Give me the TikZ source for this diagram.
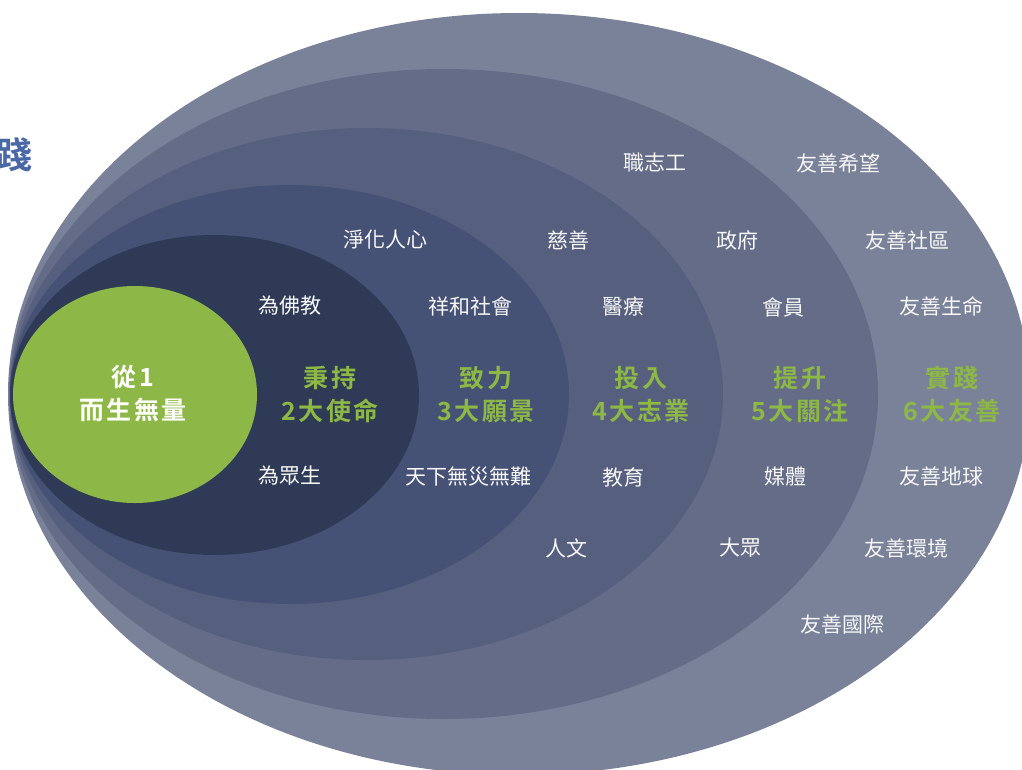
\documentclass[tikz,border=0pt]{standalone}
\usepackage{fontspec}
\newfontfamily\cjk{Noto Sans CJK TC}
\newfontfamily\cjkb{Noto Sans CJK TC Bold}
\definecolor{ringA}{HTML}{7A8299}
\definecolor{ringB}{HTML}{646C87}
\definecolor{ringC}{HTML}{56607E}
\definecolor{ringD}{HTML}{465275}
\definecolor{ringE}{HTML}{2F3B56}
\definecolor{coregreen}{HTML}{8DB848}
\definecolor{textgreen}{HTML}{8DB845}
\definecolor{titleblue}{HTML}{4A68A6}
\def\tr#1{\trA#1\relax}
\def\trA#1{#1\trB}
\def\trB#1{\ifx#1\relax\else\kern2.5pt#1\expandafter\trB\fi}
\tikzset{
  lbl/.style={text=white!94!gray, font=\cjk\fontsize{21}{25}\selectfont, inner sep=0pt},
  big/.style={text=textgreen, font=\cjkb\fontsize{25}{33}\selectfont, align=center, inner sep=0pt},
  corelbl/.style={text=white, font=\cjkb\fontsize{25}{33}\selectfont, align=center, inner sep=0pt},
}
\begin{document}
\begin{tikzpicture}[x=1pt,y=-1pt]
\useasboundingbox (0,0) rectangle (1022,769);
% nested rings
\fill[ringA] (519,394) ellipse [x radius=511pt, y radius=381pt];
\fill[ringB] (443.5,394) ellipse [x radius=434.5pt, y radius=325pt];
\fill[ringC] (366.5,394) ellipse [x radius=356.5pt, y radius=266pt];
\fill[ringD] (289.5,394.5) ellipse [x radius=279.5pt, y radius=209.5pt];
\fill[ringE] (214.5,395) ellipse [x radius=204.5pt, y radius=160pt];
\fill[coregreen] (135,394.5) ellipse [x radius=122pt, y radius=108.5pt];
% partial title
\node[text=titleblue, font=\cjkb\fontsize{36}{40}\selectfont, inner sep=0pt] (title) at (15,155) {踐};
% core
\node[corelbl] (core) at (133,394) {\tr{從1}\\\tr{而生無量}};
% green headings
\node[big] (h2) at (330,394.5) {\tr{秉持}\\\tr{2大使命}};
\node[big] (h3) at (486,394.5) {\tr{致力}\\\tr{3大願景}};
\node[big] (h4) at (641,394.5) {\tr{投入}\\\tr{4大志業}};
\node[big] (h5) at (800,394.5) {\tr{提升}\\\tr{5大關注}};
\node[big] (h6) at (952,394.5) {\tr{實踐}\\\tr{6大友善}};
% white labels
\node[lbl] (l1) at (655,163) {職志工};
\node[lbl] (l2) at (838,163) {友善希望};
\node[lbl] (l3) at (385,240) {淨化人心};
\node[lbl] (l4) at (568,240) {慈善};
\node[lbl] (l5) at (737,240) {政府};
\node[lbl] (l6) at (907,240) {友善社區};
\node[lbl] (l7) at (290,306) {為佛教};
\node[lbl] (l8) at (470,306) {祥和社會};
\node[lbl] (l9) at (623,307) {醫療};
\node[lbl] (l10) at (783,307) {會員};
\node[lbl] (l11) at (941,306) {友善生命};
\node[lbl] (l12) at (290,476) {為眾生};
\node[lbl] (l13) at (468,476) {天下無災無難};
\node[lbl] (l14) at (623,477) {教育};
\node[lbl] (l15) at (785,477) {媒體};
\node[lbl] (l16) at (941,476) {友善地球};
\node[lbl] (l17) at (566,548) {人文};
\node[lbl] (l18) at (740,548) {大眾};
\node[lbl] (l19) at (906,548) {友善環境};
\node[lbl] (l20) at (842,625) {友善國際};
\end{tikzpicture}
\end{document}
